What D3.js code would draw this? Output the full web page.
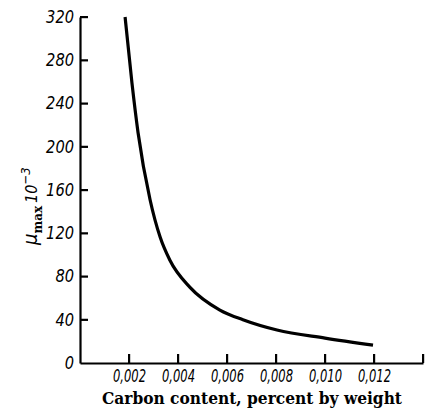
<!DOCTYPE html>
<html>
<head>
<meta charset="utf-8">
<script src="https://cdn.jsdelivr.net/npm/d3@7"></script>
<style>
  body { margin: 0; background: #fff; }
  svg { display: block; }
</style>
</head>
<body>
<div id="container"></div>
<script>
/* DATA */
const carbon = [0.00184, 0.00212, 0.00237, 0.00286, 0.00327, 0.00367, 0.00449, 0.00571, 0.00665, 0.00804, 0.01000, 0.01196];
const muMax  = [320, 259, 213, 151, 116.5, 95, 70, 49, 40, 30.5, 23, 16.5];
const xTicks = [0.002, 0.004, 0.006, 0.008, 0.010, 0.012, 0.014];
const yTicks = [0, 40, 80, 120, 160, 200, 240, 280, 320];

/* CONSTANTS */
const W = 430, H = 410;
const x0 = 80, x1 = 423, y0 = 363, y1 = 17;
const tickFont = "'DejaVu Sans Condensed', 'DejaVu Sans', sans-serif";

const svg = d3.select("#container")
  .append("svg")
  .attr("width", W)
  .attr("height", H);

svg.append("rect").attr("width", W).attr("height", H).attr("fill", "#fff");

/* SCALES */
const xScale = d3.scaleLinear().domain([0, 0.014]).range([x0, x1]);
const yScale = d3.scaleLinear().domain([0, 320]).range([y0, y1]);

const fmtX = d => d >= 0.0139 ? "" : d3.format(".3f")(d).replace(".", ",");

/* AXES */
const gx = svg.append("g")
  .attr("transform", `translate(0,${y0})`)
  .call(d3.axisBottom(xScale).tickValues(xTicks).tickFormat(fmtX)
    .tickSize(0).tickPadding(7));

const gy = svg.append("g")
  .attr("transform", `translate(${x0},0)`)
  .call(d3.axisLeft(yScale).tickValues(yTicks).tickFormat(d3.format("d"))
    .tickSize(0).tickPadding(6));

[gx, gy].forEach(g => {
  g.select(".domain").attr("stroke", "#000").attr("stroke-width", 2.2);
  g.selectAll(".tick text")
    .attr("fill", "#000")
    .style("font-family", tickFont)
    .style("font-style", "italic")
    .style("font-size", "17px");
});

gx.selectAll(".tick text")
  .attr("textLength", 33)
  .attr("lengthAdjust", "spacingAndGlyphs");
gy.selectAll(".tick text")
  .attr("textLength", d => String(d).length * 9.3)
  .attr("lengthAdjust", "spacingAndGlyphs");

// inward tick marks as small filled rects
svg.append("g").selectAll("rect")
  .data(xTicks)
  .join("rect")
  .attr("x", d => xScale(d) - 1)
  .attr("y", y0 - 9)
  .attr("width", 2.2)
  .attr("height", 9)
  .attr("fill", "#000");

svg.append("g").selectAll("rect")
  .data(yTicks.filter(d => d > 0))
  .join("rect")
  .attr("x", x0)
  .attr("y", d => yScale(d) - 1)
  .attr("width", 8)
  .attr("height", 2.2)
  .attr("fill", "#000");

/* CURVE */
const pts = carbon.map((c, i) => [c, muMax[i]]);
svg.append("path")
  .datum(pts)
  .attr("fill", "none")
  .attr("stroke", "#000")
  .attr("stroke-width", 3.2)
  .attr("d", d3.line()
    .x(d => xScale(d[0]))
    .y(d => yScale(d[1]))
    .curve(d3.curveMonotoneX));

/* LABELS */
svg.append("text")
  .attr("x", 252)
  .attr("y", 404)
  .attr("text-anchor", "middle")
  .attr("textLength", 300)
  .attr("lengthAdjust", "spacingAndGlyphs")
  .style("font-family", "'DejaVu Serif', serif")
  .style("font-weight", "bold")
  .style("font-size", "16px")
  .text("Carbon content, percent by weight");

const yl = svg.append("text")
  .attr("transform", "translate(37,245) rotate(-90)")
  .attr("text-anchor", "start")
  .style("font-family", tickFont);

yl.append("tspan")
  .style("font-style", "italic")
  .style("font-size", "20px")
  .text("μ");
yl.append("tspan")
  .attr("dy", 5)
  .style("font-family", "'DejaVu Serif', serif")
  .style("font-weight", "bold")
  .style("font-size", "12px")
  .text("max");
yl.append("tspan")
  .attr("dy", -5)
  .attr("dx", 3)
  .style("font-style", "italic")
  .style("font-size", "16px")
  .text("10");
yl.append("tspan")
  .attr("dy", -7)
  .style("font-style", "italic")
  .style("font-size", "13px")
  .text("−3");
</script>
</body>
</html>
